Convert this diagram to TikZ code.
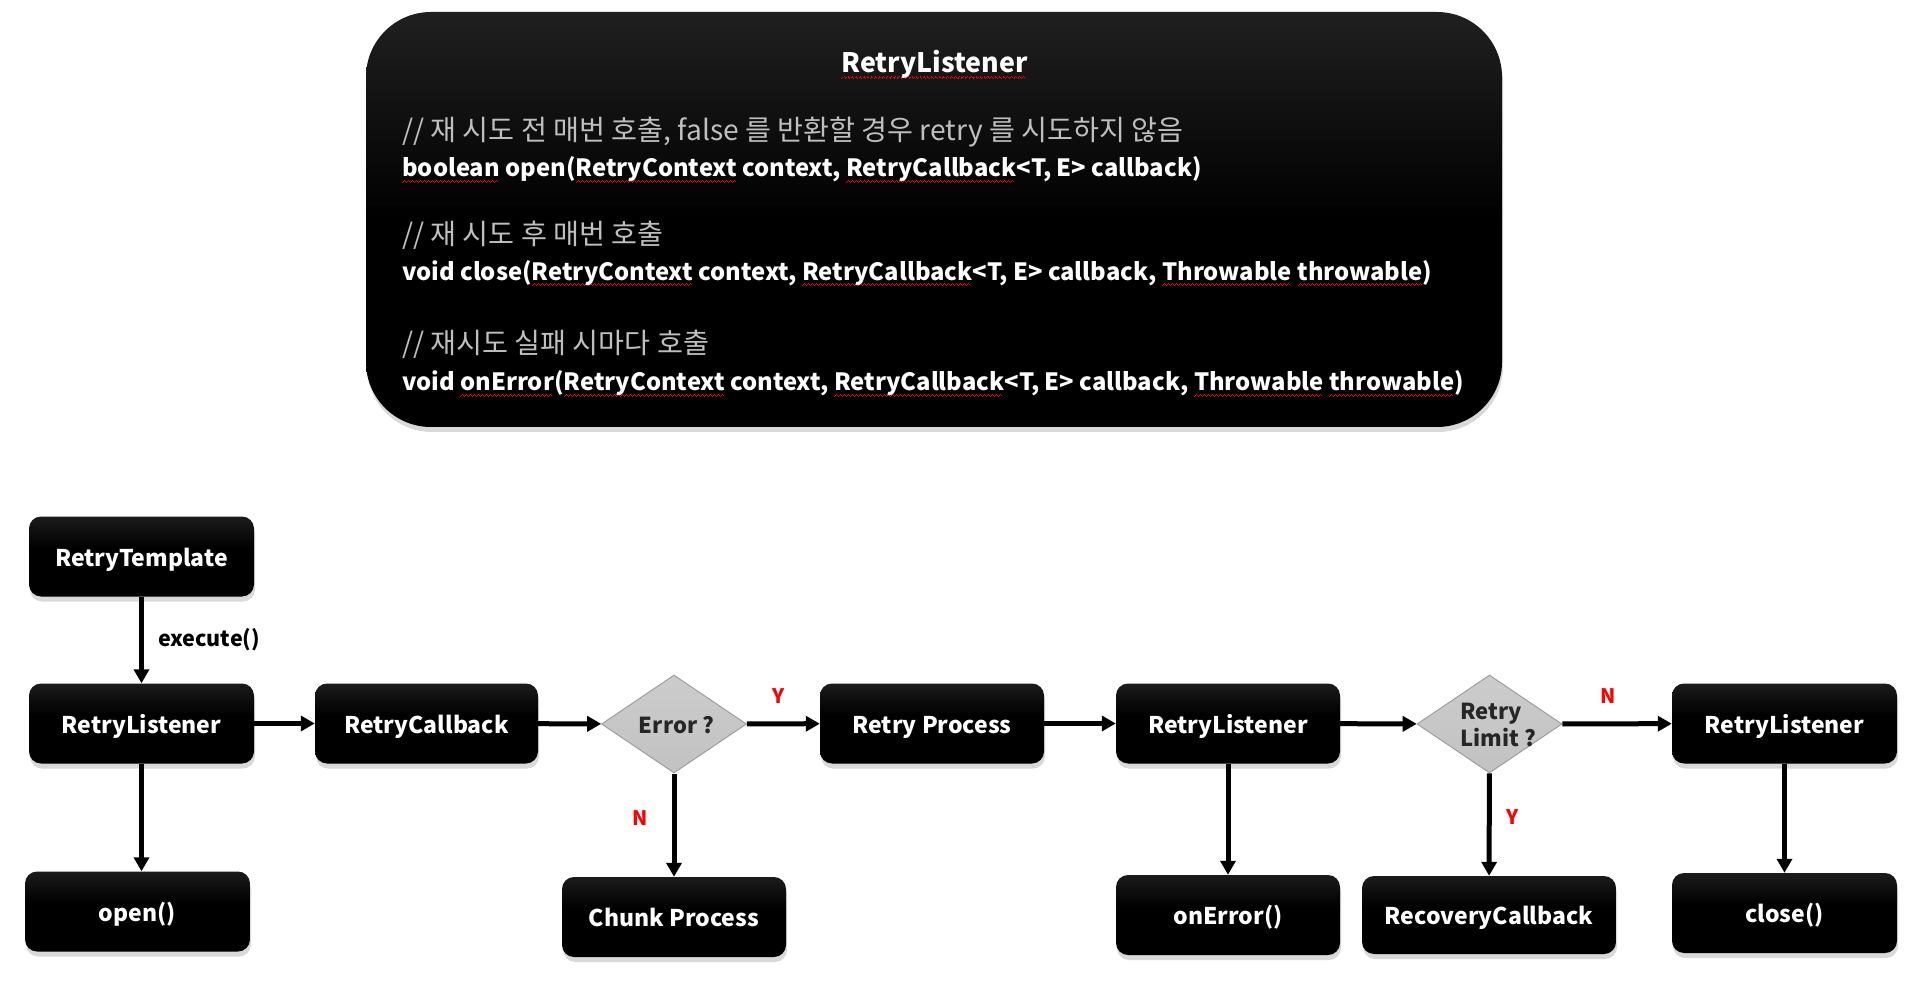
\documentclass[tikz,border=0pt]{standalone}
\usepackage{fontspec}
\setmainfont{Noto Sans CJK KR}
\usetikzlibrary{arrows.meta,shapes.geometric,shadows,positioning}

% red spell-check waves under words
\newsavebox\spellbox
\newcommand\spellwave{\hbox{\rule[-6pt]{1pt}{1.2pt}\rule[-5pt]{1pt}{1.2pt}\rule[-4pt]{1pt}{1.2pt}\rule[-5pt]{1pt}{1.2pt}}}
\newcommand\spell[1]{\sbox\spellbox{#1}\rlap{\color{red}\leaders\spellwave\hskip\wd\spellbox}\usebox\spellbox}

\pgfdeclareverticalshading{boxshade}{100bp}{color(0bp)=(black); color(55bp)=(black); color(100bp)=(black!76)}
\pgfdeclareverticalshading{panelshade}{100bp}{color(0bp)=(black); color(50bp)=(black); color(100bp)=(black!75)}
\pgfdeclareverticalshading{diashade}{100bp}{color(0bp)=(black!26); color(100bp)=(black!18)}

\tikzset{
  flowbox/.style={rounded corners=12pt, shading=boxshade, minimum width=225pt,
    minimum height=80pt, inner sep=0pt, text=white, text height=19pt, text depth=0pt,
    font=\bfseries\fontsize{23}{27}\selectfont,
    drop shadow={shadow xshift=1pt, shadow yshift=-5pt, opacity=0.3}},
  decision/.style={diamond, shading=diashade, draw=black!38, line width=1pt,
    minimum width=145pt, minimum height=98pt, inner sep=0pt},
  dtext/.style={font=\bfseries\fontsize{22}{27}\selectfont, text=black!85,
    align=left, inner sep=0pt},
  panel/.style={rounded corners=65pt, shading=panelshade, minimum width=1136pt,
    minimum height=415pt, drop shadow={shadow xshift=1pt, shadow yshift=-5pt, opacity=0.3}},
  cmt/.style={text=black!25, font=\fontsize{28.2}{32}\selectfont, inner sep=0pt},
  sig/.style={text=white, font=\bfseries\fontsize{23.8}{28}\selectfont, inner sep=0pt},
  flow/.style={line width=5pt, -{Triangle[length=14pt,width=15pt]}},
  yn/.style={text=red, font=\bfseries\fontsize{20}{24}\selectfont, inner sep=0pt},
  lbl/.style={text=black, font=\bfseries\fontsize{21.5}{25}\selectfont, inner sep=0pt},
}

\begin{document}
\begin{tikzpicture}[x=1pt, y=-1pt]
\useasboundingbox (0,0) rectangle (1931,981);

% ==========================================
% TOP: RetryListener interface
% ==========================================
\node[panel] (panel) at (934,219.5) {};
\node[sig, font=\bfseries\fontsize{26.8}{31}\selectfont, anchor=base] (ttl) at (934.5,73) {\spell{RetryListener}};

\node[cmt, anchor=base west] (cmtOpen)  at (402,141)   {// 재 시도 전 매번 호출, false 를 반환할 경우 retry 를 시도하지 않음};
\node[sig, anchor=base west] (sigOpen)  at (402,177)   {\spell{boolean} open(\spell{RetryContext} context, \spell{RetryCallback}<T, E> callback)};
\node[cmt, anchor=base west] (cmtClose) at (402,244.5) {// 재 시도 후 매번 호출};
\node[sig, anchor=base west] (sigClose) at (402,280.5) {void close(\spell{RetryContext} context, \spell{RetryCallback}<T, E> callback, \spell{Throwable} \spell{throwable})};
\node[cmt, anchor=base west] (cmtErr)   at (402,354)   {// 재시도 실패 시마다 호출};
\node[sig, anchor=base west] (sigErr)   at (402,391)   {void \spell{onError}(\spell{RetryContext} context, \spell{RetryCallback}<T, E> callback, \spell{Throwable} \spell{throwable})};

% ==========================================
% BOTTOM: retry flow
% ==========================================
\node[flowbox] (tmpl)  at (141.5,556.5) {RetryTemplate};
\node[flowbox] (rl1)   at (141.5,723.5) {RetryListener};
\node[flowbox] (open)  at (137.5,911.5) {open()};
\node[flowbox, minimum width=223pt] (cb) at (426.5,723.5) {RetryCallback};
\node[decision] (err)  at (674,724) {};
\node[dtext] (errtxt)  at (676.5,725) {Error ?};
\node[flowbox, minimum width=224pt] (chunk) at (674,917) {Chunk Process};
\node[flowbox, minimum width=224pt] (proc)  at (932,723.5) {Retry Process};
\node[flowbox, minimum width=224pt] (rl2)   at (1228,723.5) {RetryListener};
\node[flowbox, minimum width=224pt] (onerr) at (1228,915) {onError()};
\node[decision] (lim)  at (1489.5,724) {};
\node[dtext] (limtxt)  at (1498,725) {Retry\\Limit ?};
\node[flowbox, minimum width=254pt, minimum height=78pt] (recov) at (1489,915) {RecoveryCallback};
\node[flowbox] (rl3)   at (1784.5,723.5) {RetryListener};
\node[flowbox] (close) at (1784.5,913) {close()};

% connectors
\draw[flow] (tmpl) -- node[lbl, right=14pt] {execute()} (rl1);
\draw[flow] (rl1.south) -- (rl1.south |- open.north);
\draw[flow] (rl1) -- (cb);
\draw[flow] (cb) -- (err);
\draw[flow] (err) -- node[yn, pos=0.43, above=18pt] {Y} (proc);
\draw[flow] (err) -- node[yn, pos=0.43, left=24pt] {N} (chunk);
\draw[flow] (proc) -- (rl2);
\draw[flow] (rl2) -- (onerr);
\draw[flow] (rl2) -- (lim);
\draw[flow] (lim) -- node[yn, pos=0.42, above=18pt] {N} (rl3);
\draw[flow] (lim) -- node[yn, pos=0.43, right=15pt] {Y} (recov);
\draw[flow] (rl3) -- (close);

\end{tikzpicture}
\end{document}
